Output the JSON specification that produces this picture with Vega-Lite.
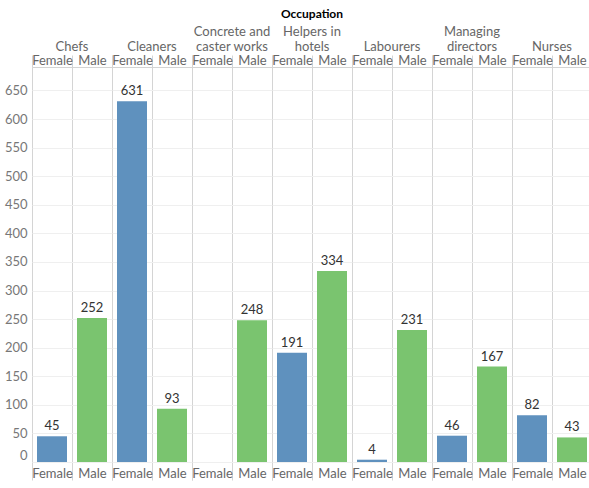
{
  "$schema": "https://vega.github.io/schema/vega-lite/v6.json",
  "padding": {"left": 4, "top": 8, "right": 0, "bottom": 0},
  "background": "white",
  "bounds": "flush",
  "data": {"values": [
    {"Occupation": "Chefs", "Gender": "Female", "Count": 45},
    {"Occupation": "Chefs", "Gender": "Male", "Count": 252},
    {"Occupation": "Cleaners", "Gender": "Female", "Count": 631},
    {"Occupation": "Cleaners", "Gender": "Male", "Count": 93},
    {"Occupation": "Concrete and|caster works", "Gender": "Male", "Count": 248},
    {"Occupation": "Helpers in|hotels", "Gender": "Female", "Count": 191},
    {"Occupation": "Helpers in|hotels", "Gender": "Male", "Count": 334},
    {"Occupation": "Labourers", "Gender": "Female", "Count": 4},
    {"Occupation": "Labourers", "Gender": "Male", "Count": 231},
    {"Occupation": "Managing|directors", "Gender": "Female", "Count": 46},
    {"Occupation": "Managing|directors", "Gender": "Male", "Count": 167},
    {"Occupation": "Nurses", "Gender": "Female", "Count": 82},
    {"Occupation": "Nurses", "Gender": "Male", "Count": 43}
  ]},
  "facet": {
    "column": {
      "field": "Occupation",
      "type": "nominal",
      "header": {
        "title": "Occupation",
        "titleFontWeight": "bold",
        "titleFontSize": 12,
        "titleColor": "#000000",
        "titlePadding": -5,
        "labelOrient": "top",
        "labelFontSize": 13,
        "labelColor": "#666666",
        "labelExpr": "split(datum.value, '|')",
        "labelLineHeight": 15,
        "labelPadding": 0
      }
    }
  },
  "spacing": 0,
  "spec": {
    "width": 80,
    "height": 395,
    "encoding": {
      "y": {
        "field": "Count",
        "type": "quantitative",
        "scale": {"domain": [0, 691], "nice": false},
        "axis": {
          "title": null,
          "values": [0, 50, 100, 150, 200, 250, 300, 350, 400, 450, 500, 550, 600, 650],
          "labelOverlap": false,
          "labelFontSize": 13,
          "labelColor": "#777777",
          "labelFlush": true,
          "labelPadding": 5,
          "domain": false,
          "ticks": false,
          "grid": true,
          "gridColor": "#efefef"
        }
      }
    },
    "layer": [
      {
        "mark": {"type": "bar", "width": {"band": 0.75}},
        "encoding": {
          "x": {
            "field": "Gender",
            "type": "nominal",
            "scale": {"paddingInner": 0, "paddingOuter": 0},
            "axis": {
              "orient": "bottom",
              "title": null,
              "labelAngle": 0,
              "labelFontSize": 13,
              "labelColor": "#666666",
              "labelPadding": -13,
              "domain": false,
              "ticks": true,
              "tickBand": "extent",
              "tickSize": 18,
              "tickColor": "#d4d4d4",
              "grid": true,
              "gridColor": "#d4d4d4"
            }
          },
          "color": {
            "field": "Gender",
            "type": "nominal",
            "scale": {"domain": ["Female", "Male"], "range": ["#5f91be", "#7ac46f"]},
            "legend": null
          }
        }
      },
      {
        "mark": {"type": "text", "baseline": "bottom", "dy": -3, "fontSize": 13, "color": "#333333"},
        "encoding": {
          "x": {
            "field": "Gender",
            "type": "nominal",
            "axis": {
              "orient": "top",
              "title": null,
              "labelAngle": 0,
              "labelFontSize": 13,
              "labelColor": "#666666",
              "labelPadding": -12,
              "domain": false,
              "ticks": true,
              "tickBand": "extent",
              "tickSize": 12,
              "tickColor": "#d4d4d4",
              "grid": false
            }
          },
          "text": {"field": "Count", "type": "quantitative"}
        }
      }
    ],
    "resolve": {"axis": {"x": "independent"}}
  },
  "config": {
    "font": "Lato",
    "view": {"stroke": "#d4d4d4"}
  }
}
